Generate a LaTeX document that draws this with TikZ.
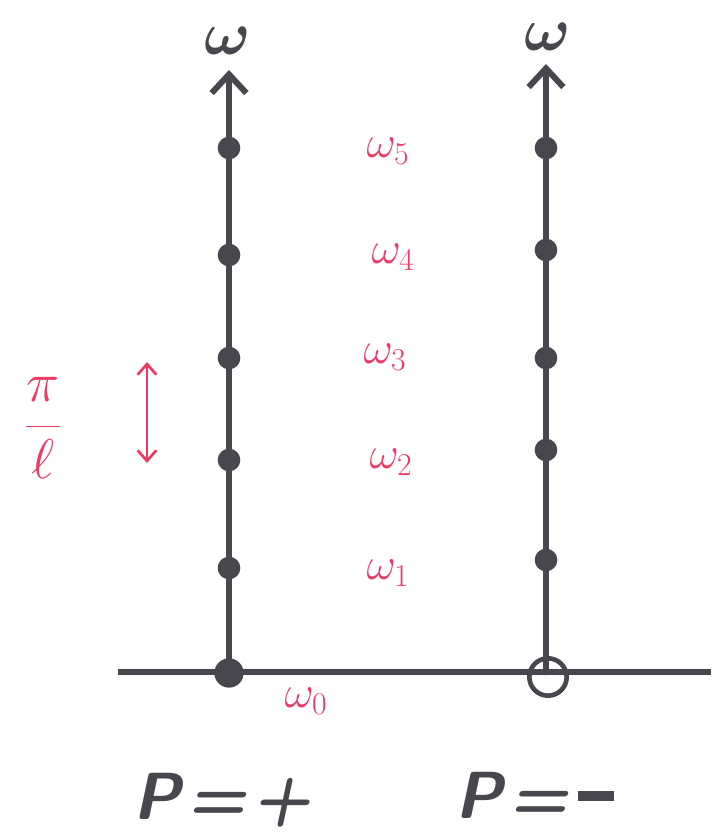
\RequirePackage{fix-cm}
\documentclass[tikz,border=0pt]{standalone}
\usepackage{fontspec}
\usetikzlibrary{arrows.meta}
\definecolor{ink}{HTML}{48474E}
\definecolor{pen}{HTML}{EC3A62}
\tikzset{
  axisline/.style={draw=ink, line width=5pt, line cap=round},
  baseline/.style={draw=ink, line width=3.8pt},
  dotfill/.style={circle, fill=ink, inner sep=0pt, minimum size=17pt},
  bigdot/.style={circle, fill=ink, inner sep=0pt, minimum size=22pt},
  opendot/.style={circle, draw=ink, line width=3.5pt, inner sep=0pt, minimum size=28pt},
  redlabel/.style={text=pen, font=\fontsize{34}{34}\selectfont},
  axlabel/.style={text=ink, inner sep=0pt, font=\fontsize{46}{46}\selectfont\boldmath},
  plabel/.style={text=ink, font=\fontsize{50}{50}\selectfont\sffamily\bfseries\itshape},
  tip/.style={-{Straight Barb[length=14pt,width=26pt,line width=4.5pt]}}
}
\begin{document}
\begin{tikzpicture}[x=0.75pt,y=-0.75pt]
\useasboundingbox (0,0) rectangle (711,832);
% axes
\coordinate (hl) at (118,672);
\coordinate (hr) at (711,672);
\coordinate (lb) at (229,672);
\coordinate (lt) at (229,70);
\coordinate (rb) at (546,672);
\coordinate (rt) at (546,64);
\draw[baseline] (hl) -- (hr);
\draw[axisline,tip] (lb) -- (lt);
\draw[axisline,tip] (rb) -- (rt);
% axis labels
\node[axlabel] (wl) at (228,41) {$\omega$};
\node[axlabel] (wr) at (548,37) {$\omega$};
% left dots
\foreach \y [count=\i] in {568,460,358,255,148} {
  \node[dotfill] (l\i) at (229,\y) {};
}
\node[bigdot] (l0) at (229,673) {};
% right dots
\foreach \y [count=\i] in {560,450,358,250,148} {
  \node[dotfill] (r\i) at (546,\y) {};
}
\node[opendot] (r0) at (548,677) {};
% red labels
\node[redlabel] (w5) at (388,151) {$\omega_5$};
\node[redlabel] (w4) at (393,257) {$\omega_4$};
\node[redlabel] (w3) at (385,357) {$\omega_3$};
\node[redlabel] (w2) at (391,462) {$\omega_2$};
\node[redlabel] (w1) at (388,573) {$\omega_1$};
\node[redlabel] (w0) at (306,701) {$\omega_0$};
% pi over l
\node[redlabel, font=\fontsize{42}{42}\selectfont] (frac) at (43,428) {$\displaystyle\frac{\pi}{\ell}$};
\coordinate (da) at (147,362);
\coordinate (db) at (147,463);
\draw[pen, line width=2pt, {Straight Barb[length=8pt,width=14pt,line width=2pt]}-{Straight Barb[length=8pt,width=14pt,line width=2pt]}] (da) -- (db);
% parity labels
\node[plabel] (pp) at (222,800) {P\kern6pt=\kern6pt+};
\node[plabel] (pm) at (535,795) {P\kern6pt=\kern8pt\rule[0.26em]{27pt}{7pt}};
\end{tikzpicture}
\end{document}
